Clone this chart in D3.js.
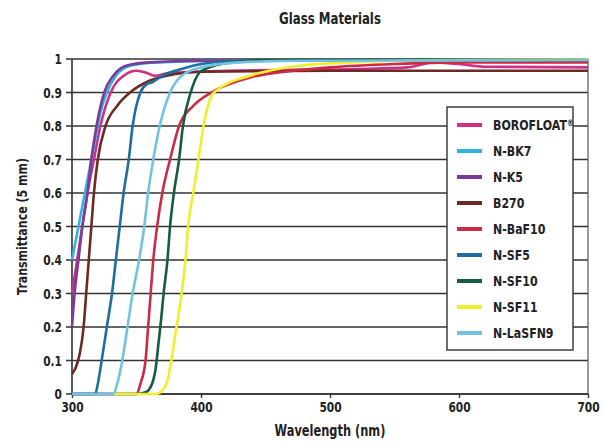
<!DOCTYPE html>
<html>
<head>
<meta charset="utf-8">
<script src="https://cdn.jsdelivr.net/npm/d3@7"></script>
<style>
  body { margin: 0; background: #fff; }
  text { font-family: "DejaVu Sans", sans-serif; font-weight: bold; fill: #222; }
</style>
</head>
<body>
<div id="chart"></div>
<script>
// data: [wavelength nm, transmittance]
var seriesNames = ["BOROFLOAT", "N-BK7", "N-K5", "B270", "N-BaF10", "N-SF5", "N-SF10", "N-SF11", "N-LaSFN9"];
var seriesColors = ["#cf2f86", "#2fb4e2", "#7a3c98", "#6b2a24", "#cc2b45", "#1f6ea0", "#155c43", "#f1ee2c", "#72c2e4"];

var borofloat = [[300,0.3],[304,0.4],[308,0.5],[312,0.6],[317,0.7],[322,0.8],[330,0.9],[340,0.95],[350,0.965],[357,0.96],[364,0.95],[375,0.958],[420,0.965],[520,0.97],[560,0.975],[580,0.99],[600,0.985],[620,0.977],[700,0.975]];
var nbk7 = [[300,0.4],[303,0.46],[306,0.52],[310,0.6],[314,0.68],[318,0.76],[322,0.84],[327,0.9],[334,0.95],[345,0.98],[365,0.99],[420,0.995],[700,0.995]];
var nk5 = [[300,0.2],[302,0.3],[305,0.4],[308,0.5],[312,0.6],[315,0.7],[319,0.8],[325,0.9],[332,0.95],[342,0.98],[360,0.99],[400,0.995],[700,0.997]];
var b270 = [[300,0.06],[303,0.08],[306,0.12],[309,0.2],[311,0.3],[313,0.4],[315,0.5],[317,0.6],[320,0.7],[326,0.8],[335,0.86],[345,0.9],[360,0.935],[380,0.955],[400,0.962],[500,0.965],[700,0.965]];
var nbaf10 = [[300,0],[350,0],[353,0.03],[357,0.1],[359,0.2],[361,0.3],[363,0.4],[366,0.5],[370,0.6],[376,0.7],[383,0.8],[394,0.86],[408,0.9],[438,0.945],[460,0.96],[500,0.975],[550,0.985],[600,0.99],[700,0.99]];
var nsf5 = [[300,0],[318,0],[320,0.03],[323,0.1],[327,0.2],[331,0.3],[334,0.4],[337,0.5],[340,0.6],[344,0.7],[347,0.8],[353,0.9],[358,0.925],[362,0.93],[370,0.95],[385,0.97],[400,0.985],[430,0.995],[700,0.997]];
var nsf10 = [[300,0],[350,0],[357,0.005],[362,0.03],[365,0.08],[367,0.15],[369,0.22],[371,0.3],[374,0.4],[376,0.5],[379,0.6],[383,0.7],[386,0.8],[392,0.9],[399,0.96],[410,0.98],[425,0.99],[450,0.997],[700,0.998]];
var nsf11 = [[330,0],[365,0],[370,0.01],[374,0.04],[377,0.1],[381,0.2],[385,0.3],[388,0.4],[390,0.5],[394,0.6],[398,0.7],[402,0.8],[410,0.9],[438,0.95],[477,0.98],[515,0.99],[600,0.997],[700,0.998]];
var nlasfn9 = [[300,0],[332,0],[335,0.03],[339,0.1],[343,0.2],[347,0.3],[352,0.4],[356,0.5],[359,0.6],[363,0.7],[368,0.8],[376,0.9],[385,0.95],[400,0.975],[430,0.99],[480,0.995],[700,0.997]];
var seriesData = [borofloat, nbk7, nk5, b270, nbaf10, nsf5, nsf10, nsf11, nlasfn9];

var xTicks = [300, 400, 500, 600, 700];
var yTicks = [0, 0.1, 0.2, 0.3, 0.4, 0.5, 0.6, 0.7, 0.8, 0.9, 1];

var svgWidth = 604;
var svgHeight = 442;
var margin = { top: 59, right: 16, bottom: 48, left: 72 };
var width = svgWidth - margin.left - margin.right;
var height = svgHeight - margin.top - margin.bottom;

// no condensed font installed, so squeeze text horizontally
var squeeze = 0.76;

var svg = d3.select("#chart")
    .append("svg")
    .attr("width", svgWidth)
    .attr("height", svgHeight);

var chartGroup = svg.append("g")
    .attr("transform", `translate(${margin.left},${margin.top})`);

var x = d3.scaleLinear().domain([300, 700]).range([0, width]);
var y = d3.scaleLinear().domain([0, 1]).range([height, 0]);

//gridlines (extend a bit left of the axis like tick marks)
chartGroup.append("g")
    .selectAll("line")
    .data(yTicks)
    .enter()
    .append("line")
    .attr("x1", -6)
    .attr("x2", width)
    .attr("y1", d => y(d))
    .attr("y2", d => y(d))
    .attr("stroke", "#333")
    .attr("stroke-width", 1.4);

//y tick labels
chartGroup.append("g")
    .selectAll("text")
    .data(yTicks)
    .enter()
    .append("text")
    .attr("transform", d => `translate(-10,${y(d)}) scale(${squeeze},1)`)
    .attr("dy", "0.36em")
    .style("text-anchor", "end")
    .style("font-size", "14px")
    .text(d => d === 0 || d === 1 ? d : d3.format(".1f")(d));

//x axis
var bottomAxis = d3.axisBottom(x).tickValues(xTicks).tickSize(4).tickFormat(d3.format("d"));
var xAxisG = chartGroup.append("g")
    .attr("transform", `translate(0, ${height})`)
    .call(bottomAxis);
xAxisG.select(".domain").remove();
xAxisG.selectAll("line").attr("stroke", "#333").attr("stroke-width", 1.4);
xAxisG.selectAll("text")
    .attr("y", 8)
    .attr("transform", `scale(${squeeze},1)`)
    .style("font-size", "14px")
    .style("font-family", "'DejaVu Sans', sans-serif")
    .style("font-weight", "bold")
    .attr("fill", "#222");

//frame
chartGroup.append("line").attr("x1", 0).attr("x2", 0).attr("y1", 0).attr("y2", height)
    .attr("stroke", "#333").attr("stroke-width", 1.6);
chartGroup.append("line").attr("x1", width).attr("x2", width).attr("y1", 0).attr("y2", height)
    .attr("stroke", "#555").attr("stroke-width", 1.2);
chartGroup.append("line").attr("x1", 0).attr("x2", width).attr("y1", height).attr("y2", height)
    .attr("stroke", "#333").attr("stroke-width", 1.6);

//curves
var line = d3.line()
    .x(d => x(d[0]))
    .y(d => y(d[1]))
    .curve(d3.curveMonotoneX);

chartGroup.append("g")
    .selectAll("path")
    .data(seriesData)
    .enter()
    .append("path")
    .attr("d", d => line(d))
    .attr("fill", "none")
    .attr("stroke", (d, i) => seriesColors[i])
    .attr("stroke-width", 2.6)
    .attr("stroke-linejoin", "round");

//legend
var legendX = 447 - margin.left;
var legendY = 107 - margin.top;
var legend = chartGroup.append("g")
    .attr("transform", `translate(${legendX},${legendY})`);

legend.append("rect")
    .attr("width", 126)
    .attr("height", 243)
    .attr("fill", "#fff")
    .attr("stroke", "#333")
    .attr("stroke-width", 1.4);

var items = legend.selectAll("g.item")
    .data(seriesNames)
    .enter()
    .append("g")
    .attr("class", "item")
    .attr("transform", (d, i) => `translate(0, ${18 + i * 26})`);

items.append("line")
    .attr("x1", 10)
    .attr("x2", 35)
    .attr("stroke", (d, i) => seriesColors[i])
    .attr("stroke-width", 4);

var labels = items.append("text")
    .attr("transform", `translate(46,0) scale(${squeeze},1)`)
    .attr("dy", "0.36em")
    .style("font-size", "14.5px")
    .text(d => d);

// registered mark after BOROFLOAT
labels.filter((d, i) => i === 0)
    .append("tspan")
    .attr("dy", "-0.45em")
    .style("font-size", "9px")
    .text("®");

//title
svg.append("text")
    .attr("transform", `translate(${margin.left + width / 2},24) scale(${squeeze},1)`)
    .style("text-anchor", "middle")
    .style("font-size", "15.5px")
    .text("Glass Materials");

// Create axes labels
svg.append("text")
    .attr("transform", `translate(27,${margin.top + height / 2}) rotate(-90) scale(${squeeze},1)`)
    .style("text-anchor", "middle")
    .style("font-size", "14.5px")
    .text("Transmittance (5 mm)");

svg.append("text")
    .attr("transform", `translate(${margin.left + width / 2},436) scale(${squeeze},1)`)
    .style("text-anchor", "middle")
    .style("font-size", "15px")
    .text("Wavelength (nm)");
</script>
</body>
</html>
